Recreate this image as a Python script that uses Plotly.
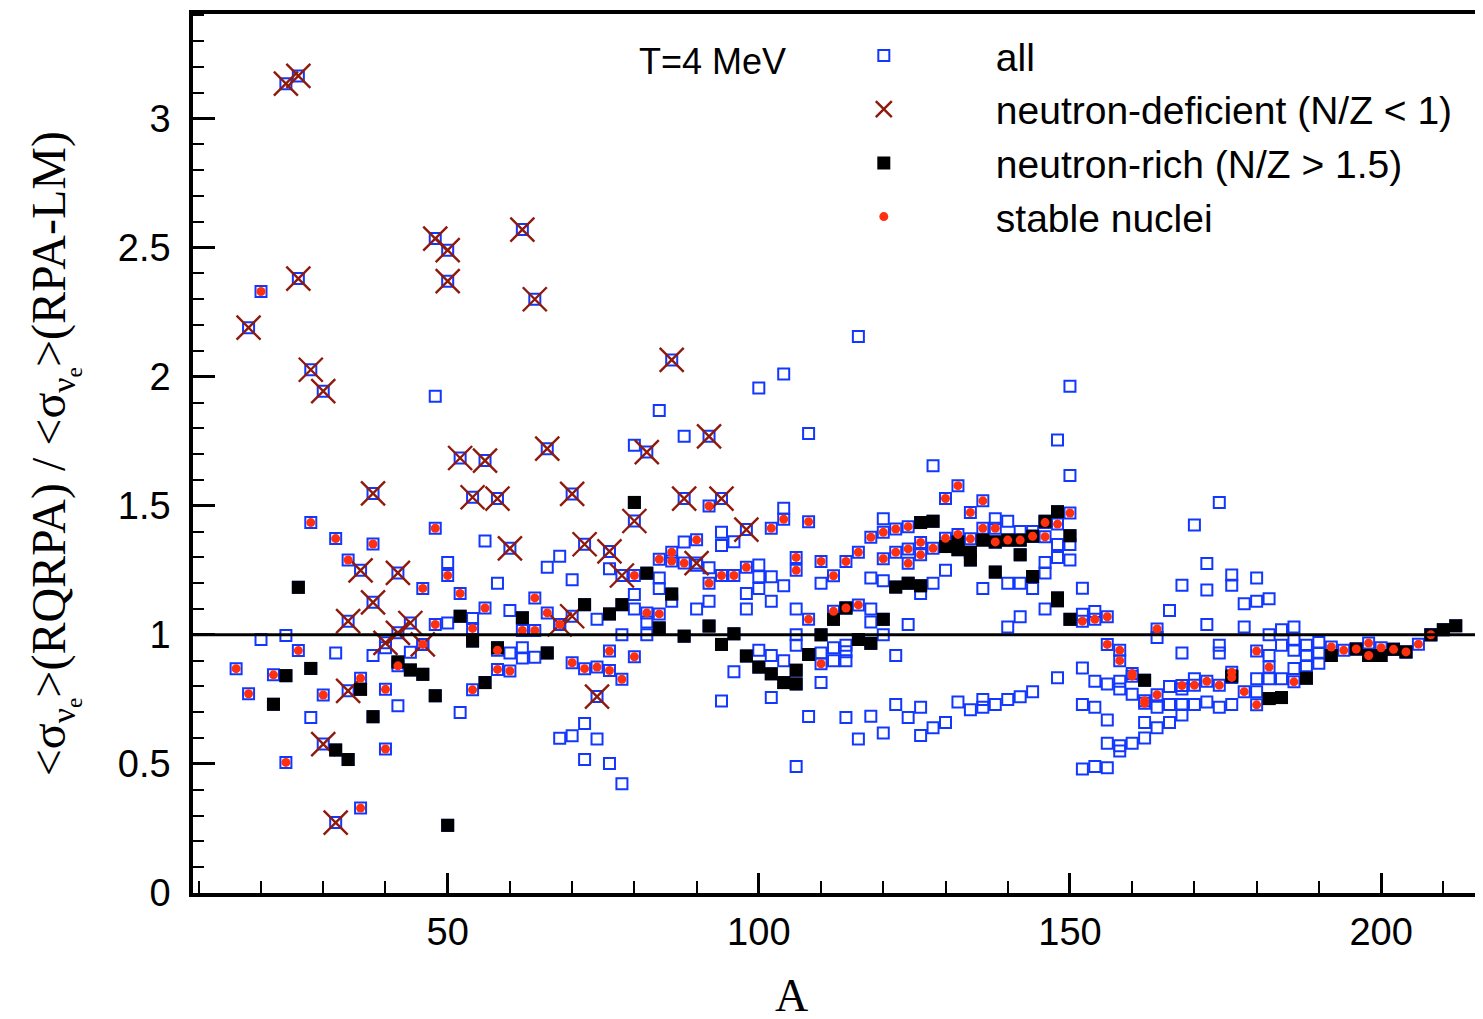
import plotly.graph_objects as go

# ---- data: ratio <sigma>(RQRPA) / <sigma>(RPA-LM) vs A ----

# neutron-deficient nuclei (N/Z < 1)
def_A = [18, 24, 26, 26, 28, 30, 48, 50, 50, 62, 64, 86, 52, 56, 38, 54, 58, 60, 36, 42,
         66, 82, 92, 70, 88, 94, 80, 98, 72, 76, 78, 90, 38, 34, 44, 42, 40, 46, 34, 30,
         32, 70, 68, 74]
def_R = [2.19, 3.135, 3.165, 2.38, 2.027, 1.944, 2.535, 2.49, 2.37, 2.57, 2.30, 2.065, 1.685,
         1.675, 1.548, 1.533, 1.528, 1.335, 1.25, 1.24, 1.721, 1.708, 1.769, 1.546, 1.528,
         1.528, 1.441, 1.408, 1.351, 1.323, 1.23, 1.278, 1.126, 1.053, 1.046, 1.008, 0.969,
         0.963, 0.783, 0.577, 0.273, 1.072, 1.04, 0.761]

# neutron-rich nuclei (N/Z > 1.5)
rich_A = [26, 52, 62, 58, 42, 44, 46, 24, 28, 22, 36, 48, 38, 56, 32, 34, 50, 54, 66,
          80, 82, 86, 72, 78, 76, 84, 88, 92, 94, 96, 98, 100, 102, 104, 106, 106, 108, 110, 112,
          126, 128, 130, 132, 132, 134, 134, 136, 138, 140, 142, 142, 144, 146, 148, 150,
          138, 144, 148, 122, 124, 126, 114, 120, 116, 118, 148, 150,
          162, 176, 182, 184, 188, 192, 196, 198, 200, 202, 204, 208, 210, 212]
rich_R = [1.184, 1.072, 1.066, 0.95, 0.895, 0.864, 0.847, 0.842, 0.87, 0.731, 0.789, 0.764,
          0.683, 0.815, 0.554, 0.517, 0.262, 0.976, 0.93,
          1.513, 1.239, 1.158, 1.117, 1.117, 1.081, 1.027, 0.995, 1.034, 0.963, 1.004, 0.918,
          0.875, 0.849, 0.815, 0.863, 0.81, 0.924, 1.0, 1.06,
          1.435, 1.44, 1.342, 1.36, 1.33, 1.32, 1.29, 1.367, 1.36, 1.367, 1.367, 1.31, 1.382,
          1.44, 1.477, 1.384, 1.243, 1.226, 1.143, 1.185, 1.2, 1.19, 1.104, 1.06, 0.982, 0.967,
          1.132, 1.06, 0.824, 0.84, 0.753, 0.757, 0.832, 0.92, 0.945, 0.92, 0.92, 0.944, 0.934,
          1.0, 1.02, 1.035]

# stable nuclei
stab_A = [20, 28, 32, 38, 48, 34, 50, 46, 52, 56, 54, 48, 46, 42, 26, 16, 22, 18, 30, 36,
          40, 54, 58, 60, 58, 24, 40, 36, 64, 66, 68, 62, 64, 82, 84,
          92, 104, 108, 102, 80, 84, 86, 86, 88, 90, 98, 94, 96, 92, 106, 106, 110, 114, 112,
          110, 112, 108, 76, 80, 70, 72, 74, 76, 78,
          116, 118, 120, 122, 124, 132, 130, 134, 136, 150, 148, 146,
          120, 122, 124, 126, 128, 126, 124, 130, 132, 134, 136, 138, 138, 140, 142, 144, 146,
          114, 116, 152, 154, 156, 164, 156, 158, 158, 160, 160, 162, 162, 164, 168, 170, 172,
          174, 176, 176, 178, 180, 180, 182, 186, 192, 194, 196, 198, 198, 200, 202, 204, 206,
          208]
stab_R = [2.33, 1.435, 1.373, 1.352, 1.413, 1.29, 1.23, 1.18, 1.16, 1.104, 1.025, 1.04, 0.963,
          0.88, 0.939, 0.869, 0.845, 0.772, 0.767, 0.832, 0.789, 0.787, 0.866, 0.86, 0.94,
          0.506, 0.558, 0.329, 1.143, 1.085, 1.04, 1.017, 1.017, 1.085, 1.081,
          1.499, 1.448, 1.438, 1.413, 1.23, 1.293, 1.32, 1.286, 1.278, 1.368, 1.262, 1.23, 1.23,
          1.2, 1.3, 1.25, 1.284, 1.284, 1.229, 0.888, 1.091, 1.06, 0.937, 0.915, 0.892, 0.869,
          0.875, 0.862, 0.828,
          1.32, 1.378, 1.397, 1.41, 1.419, 1.578, 1.528, 1.474, 1.519, 1.472, 1.429, 1.435,
          1.295, 1.32, 1.333, 1.358, 1.335, 1.31, 1.277, 1.374, 1.389, 1.372, 1.413, 1.413,
          1.36, 1.367, 1.367, 1.382, 1.38,
          1.104, 1.116, 1.053, 1.06, 1.07, 1.023, 0.963, 0.94, 0.9, 0.85, 0.84, 0.745, 0.735,
          0.768, 0.804, 0.805, 0.82, 0.805, 0.855, 0.835, 0.78, 0.937, 0.729, 0.875, 0.818,
          0.953, 0.94, 0.945, 0.968, 0.92, 0.95, 0.944, 0.934, 0.964, 1.0]

# remaining nuclei (open squares only)
other_A = [48, 104, 100, 84, 116, 150, 148, 150, 88, 108, 80, 56, 50, 58, 104, 88, 94, 94, 96,
           100, 90, 92, 100, 102, 84, 80, 68, 66, 70, 76, 60, 54, 50, 20, 24, 32, 38, 40, 44,
           42, 28, 52, 60,
           62, 62, 64, 78, 74, 100, 102, 104, 106, 106, 110, 112, 112, 114, 114, 98, 98, 100,
           102, 104, 110, 106, 90, 92, 80, 82, 82, 84, 86, 96, 94, 102, 110, 108, 114, 106,
           72, 70, 68, 74, 72, 76, 78,
           128, 118, 120, 126, 128, 130, 136, 140, 142, 144, 120, 138, 140, 142, 144, 146, 146,
           148, 148, 150, 150, 152,
           114, 122, 118, 118, 120, 124, 142, 146, 140, 154, 164, 152, 148, 152, 154, 154, 156,
           158, 158, 160, 156, 162, 164, 156, 158, 158, 160, 162, 166, 152, 154, 156, 164,
           116, 118, 120, 122, 124, 126, 126, 128, 130, 132, 134, 136, 136, 138, 140, 142, 144,
           166, 172, 178, 180, 182, 178, 182, 184, 186, 174, 174, 168, 190, 190, 190, 188, 188,
           188, 186, 186, 186, 184, 184, 182, 182, 180, 180, 166, 168, 170, 172, 174, 176, 168,
           170, 166, 168, 174, 170, 172, 176, 176, 180, 168, 172, 152]
other_R = [1.924, 2.01, 1.956, 1.869, 2.156, 1.963, 1.755, 1.617, 1.769, 1.78, 1.734, 1.364,
           1.28, 1.20, 1.49, 1.36, 1.397, 1.346, 1.361, 1.271, 1.27, 1.26, 1.225, 1.225, 1.22,
           1.156, 1.304, 1.262, 1.213, 1.256, 1.094, 1.063, 1.046, 0.982, 0.997, 0.93, 0.92,
           0.95, 0.933, 0.725, 0.68, 0.699, 0.93,
           0.95, 0.91, 0.913, 1.0, 1.06, 0.94, 0.92, 0.9, 0.96, 1.0, 0.93, 0.95, 0.9, 0.96, 0.9,
           1.16, 1.1, 1.18, 1.13, 1.19, 1.2, 1.1, 1.1, 1.13, 1.1, 1.05, 1.0, 1.18, 1.13, 0.857,
           0.744, 0.757, 0.815, 0.684, 0.68, 0.49,
           0.657, 0.609, 0.599, 0.597, 0.517, 0.502, 0.423,
           1.655, 1.22, 1.21, 1.16, 1.2, 1.25, 1.18, 1.2, 1.2, 1.18, 1.45, 1.45, 1.44, 1.4, 1.4,
           1.28, 1.24, 1.35, 1.3, 1.35, 1.29, 1.181,
           0.935, 0.92, 1.1, 1.05, 1.0, 1.04, 1.07, 1.1, 1.03, 1.09, 0.99, 0.872, 0.834, 0.73,
           0.72, 0.82, 0.81, 0.82, 0.79, 0.77, 0.67, 0.66, 0.64, 0.58, 0.57, 0.55, 0.58, 0.6,
           0.66, 0.48, 0.49, 0.485, 0.72,
           0.597, 0.685, 0.62, 0.73, 0.68, 0.72, 0.61, 0.64, 0.66, 0.74, 0.71, 0.75, 0.72, 0.73,
           0.75, 0.76, 0.78,
           1.094, 1.04, 1.12, 1.13, 1.14, 1.03, 1.0, 1.02, 1.03, 0.96, 0.93, 0.93, 0.97, 0.93,
           0.89, 0.96, 0.92, 0.88, 0.98, 0.94, 0.87, 0.96, 0.83, 0.92, 0.83, 0.83, 0.78, 0.73,
           0.73, 0.73, 0.74, 0.72, 0.73, 0.69, 0.83, 0.8, 0.79, 1.513, 1.426, 1.276, 1.232,
           1.192, 1.22, 1.192, 1.174, 1.08]

# every nucleus gets an open square
all_A = other_A + def_A + rich_A + stab_A
all_R = other_R + def_R + rich_R + stab_R

BLUE = "#1238ff"
DARKRED = "#8e1a0c"
RED = "#ff3010"
SANS = "Liberation Sans, Arial, sans-serif"
SERIF = "Liberation Serif, Times New Roman, serif"

fig = go.Figure()

fig.add_trace(go.Scatter(
    x=all_A, y=all_R, mode="markers", name="all",
    marker=dict(symbol="square-open", size=11, color=BLUE, line=dict(width=2, color=BLUE))))

fig.add_trace(go.Scatter(
    x=def_A, y=def_R, mode="markers", name="neutron-deficient (N/Z &lt; 1)",
    marker=dict(symbol="x-thin-open", size=24, color=DARKRED, line=dict(width=2.4, color=DARKRED))))

fig.add_trace(go.Scatter(
    x=rich_A, y=rich_R, mode="markers", name="neutron-rich (N/Z &gt; 1.5)",
    marker=dict(symbol="square", size=13, color="black", line=dict(width=0))))

fig.add_trace(go.Scatter(
    x=stab_A, y=stab_R, mode="markers", name="stable nuclei",
    marker=dict(symbol="circle", size=9, color=RED, line=dict(width=0))))

# reference line at ratio = 1
fig.add_hline(y=1, line=dict(color="black", width=3))

tick_font = dict(family=SANS, size=38, color="black")

fig.update_xaxes(
    range=[9.07, 216.7], tickmode="linear", tick0=0, dtick=50,
    ticks="inside", ticklen=20, tickwidth=2.5, tickcolor="black",
    minor=dict(dtick=10, ticks="inside", ticklen=12, tickwidth=1.5, tickcolor="black"),
    showline=True, linewidth=3.5, linecolor="black", mirror=True,
    showgrid=False, zeroline=False, tickfont=tick_font, ticklabelstandoff=3)

fig.update_yaxes(
    range=[0, 3.405], tickmode="linear", tick0=0, dtick=0.5,
    ticks="inside", ticklen=22, tickwidth=3, tickcolor="black",
    minor=dict(dtick=0.1, ticks="inside", ticklen=11, tickwidth=2, tickcolor="black"),
    showline=True, linewidth=3.5, linecolor="black", mirror=True,
    showgrid=False, zeroline=False, tickfont=tick_font, ticklabelstandoff=11)

fig.add_annotation(
    text="A", xref="paper", yref="paper", x=0.463, y=-0.117, yanchor="middle",
    showarrow=False, font=dict(family=SERIF, size=46, color="black"))

fig.add_annotation(
    text="&lt;σ<sub>ν<sub>e</sub></sub>&gt;(RQRPA) / &lt;σ<sub>ν<sub>e</sub></sub>&gt;(RPA-LM)",
    xref="paper", yref="paper", x=-0.107, y=0.5, textangle=-90,
    xanchor="center", yanchor="middle", showarrow=False,
    font=dict(family=SERIF, size=48, color="black"))

fig.add_annotation(
    text="T=4 MeV", xref="paper", yref="paper", x=0.402, y=0.946,
    xanchor="center", yanchor="middle", showarrow=False,
    font=dict(family=SANS, size=36, color="black"))

# the page body adds an 8px offset, so the margins absorb it
fig.update_layout(
    width=1483, height=1019,
    margin=dict(l=185, r=5, t=2, b=134),
    plot_bgcolor="white", paper_bgcolor="white",
    showlegend=True,
    legend=dict(x=0.448, y=0.989, xanchor="left", yanchor="top",
                bgcolor="rgba(0,0,0,0)", itemwidth=214, itemsizing="trace",
                font=dict(family=SANS, size=39, color="black"),
                tracegroupgap=0))

fig.write_html("out.html")
